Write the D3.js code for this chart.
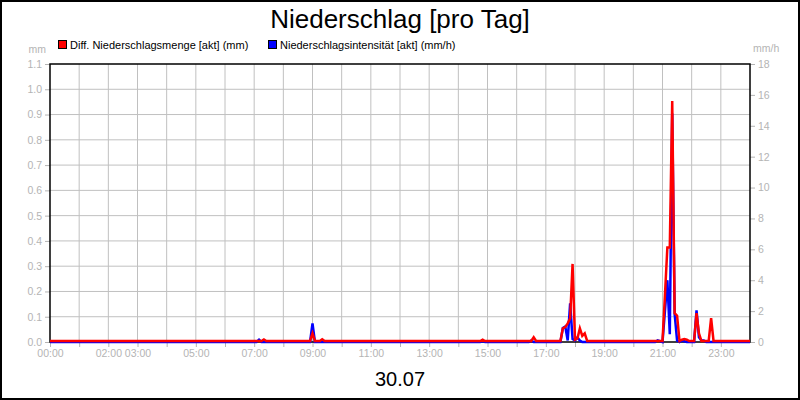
<!DOCTYPE html>
<html>
<head>
<meta charset="utf-8">
<script src="https://cdn.jsdelivr.net/npm/d3@7"></script>
<style>
  body { margin: 0; background: #fff; }
  svg { font-family: "Liberation Sans", Arial, sans-serif; }
  .axis text { fill: #b4b4b4; font-size: 10.5px; }
  .axis line { stroke: #b4b4b4; }
  .axis path { display: none; }
</style>
</head>
<body>
<div id="chart"></div>
<script>
// red series: Diff. Niederschlagsmenge (mm), 5 minute steps, zeros around the events
var mengeTimes = ['00:00', '07:15', '07:20', '07:25', '08:55', '09:00', '09:05', '09:15', '09:20', '09:25',
  '14:45', '14:50', '14:55', '16:30', '16:35', '16:40', '17:30', '17:35', '17:40', '17:45', '17:50', '17:55',
  '18:00', '18:05', '18:10', '18:15', '18:20', '18:25', '21:00', '21:05', '21:10', '21:15', '21:20', '21:25',
  '21:30', '21:35', '21:40', '21:45', '21:50', '21:55', '22:05', '22:10', '22:15', '22:20', '22:35', '22:40',
  '22:45', '24:00'];
var mengeValues = [0, 0, 0.006, 0, 0, 0.03, 0, 0, 0.007, 0,
  0, 0.005, 0, 0, 0.015, 0, 0, 0.05, 0.055, 0.07, 0.09, 0.305,
  0.005, 0.01, 0.05, 0.02, 0.03, 0, 0, 0.18, 0.37, 0.37, 0.95, 0.11,
  0.10, 0, 0.005, 0.008, 0.005, 0, 0, 0.11, 0.03, 0, 0, 0.09,
  0, 0];

// blue series: Niederschlagsintensitaet (mm/h)
var intensTimes = ['00:00', '07:05', '07:10', '07:15', '08:55', '09:00', '09:05', '14:45', '14:50', '14:55',
  '16:25', '16:30', '16:35', '17:30', '17:35', '17:40', '17:45', '17:50', '17:55', '18:00', '18:05', '18:10',
  '18:15', '20:45', '20:50', '20:55', '21:00', '21:05', '21:10', '21:15', '21:20', '21:25', '21:30', '21:35',
  '21:40', '21:45', '21:50', '22:05', '22:10', '22:15', '22:20', '22:25', '22:30', '24:00'];
var intensValues = [0, 0, 0.15, 0, 0, 1.2, 0, 0, 0.06, 0,
  0, 0.1, 0, 0, 0.9, 1.0, 0.1, 2.5, 0.2, 0.1, 0.3, 0.1,
  0, 0, 0.1, 0.05, 0, 2.0, 4.0, 0.5, 14.8, 1.8, 0.1, 0,
  0.1, 0.05, 0, 0, 2.05, 0.3, 0.1, 0.1, 0, 0];

var xLabelHours = [0, 2, 3, 5, 7, 9, 11, 13, 15, 17, 19, 21, 23];
var leftTicks = [0, 0.1, 0.2, 0.3, 0.4, 0.5, 0.6, 0.7, 0.8, 0.9, 1.0, 1.1];
var rightTicks = [0, 2, 4, 6, 8, 10, 12, 14, 16, 18];

var width = 800, height = 400;
var margin = { top: 64, right: 50, bottom: 58, left: 50 };
var chartWidth = width - margin.left - margin.right;
var chartHeight = height - margin.top - margin.bottom;

function toHours(t) {
  var p = t.split(':');
  return +p[0] + (+p[1]) / 60;
}

var svg = d3.select('#chart').append('svg')
  .attr('width', width)
  .attr('height', height);

svg.append('rect')
  .attr('x', 1).attr('y', 1)
  .attr('width', width - 2).attr('height', height - 2)
  .attr('fill', '#fff').attr('stroke', '#000').attr('stroke-width', 2);

var chartGroup = svg.append('g')
  .attr('transform', `translate(${margin.left}, ${margin.top})`);

var xScale = d3.scaleLinear().domain([0, 24]).range([0, chartWidth]);
var yLeft = d3.scaleLinear().domain([0, 1.1]).range([chartHeight, 0]);
var yRight = d3.scaleLinear().domain([0, 18]).range([chartHeight, 0]);

// grid
chartGroup.append('g').selectAll('line')
  .data(d3.range(1, 24))
  .enter().append('line')
  .attr('x1', d => xScale(d)).attr('x2', d => xScale(d))
  .attr('y1', 0).attr('y2', chartHeight)
  .attr('stroke', '#c0c0c0');

chartGroup.append('g').selectAll('line')
  .data(leftTicks.slice(1, -1))
  .enter().append('line')
  .attr('x1', 0).attr('x2', chartWidth)
  .attr('y1', d => yLeft(d)).attr('y2', d => yLeft(d))
  .attr('stroke', '#c0c0c0');

// axes
var bottomAxis = d3.axisBottom(xScale)
  .tickValues(d3.range(0, 24))
  .tickSize(5)
  .tickPadding(3)
  .tickFormat(d => xLabelHours.indexOf(d) >= 0 ? (d < 10 ? '0' + d : d) + ':00' : '');
chartGroup.append('g')
  .attr('class', 'axis')
  .attr('transform', `translate(0, ${chartHeight})`)
  .call(bottomAxis);

var leftAxis = d3.axisLeft(yLeft)
  .tickValues(leftTicks)
  .tickSize(5)
  .tickPadding(3)
  .tickFormat(d3.format('.1f'));
chartGroup.append('g')
  .attr('class', 'axis')
  .call(leftAxis);

var rightAxis = d3.axisRight(yRight)
  .tickValues(rightTicks)
  .tickSize(5)
  .tickPadding(3)
  .tickFormat(d3.format('d'));
chartGroup.append('g')
  .attr('class', 'axis')
  .attr('transform', `translate(${chartWidth}, 0)`)
  .call(rightAxis);

// plot frame
chartGroup.append('rect')
  .attr('x', 0).attr('y', 0)
  .attr('width', chartWidth).attr('height', chartHeight)
  .attr('fill', 'none').attr('stroke', '#000').attr('stroke-width', 1.5);

// lines
var intensLine = d3.line()
  .x((d, i) => xScale(toHours(intensTimes[i])))
  .y(d => yRight(d));
chartGroup.append('path')
  .datum(intensValues)
  .attr('d', intensLine)
  .attr('fill', 'none')
  .attr('stroke', '#0000ff')
  .attr('stroke-width', 2.5);

var mengeLine = d3.line()
  .x((d, i) => xScale(toHours(mengeTimes[i])))
  .y(d => yLeft(d) - 1);
chartGroup.append('path')
  .datum(mengeValues)
  .attr('d', mengeLine)
  .attr('fill', 'none')
  .attr('stroke', '#ff0000')
  .attr('stroke-width', 2.5);

// titles and labels
svg.append('text')
  .attr('x', width / 2).attr('y', 28)
  .attr('text-anchor', 'middle')
  .attr('font-size', '26px')
  .text('Niederschlag [pro Tag]');

svg.append('text')
  .attr('x', width / 2).attr('y', 386)
  .attr('text-anchor', 'middle')
  .attr('font-size', '20px')
  .text('30.07');

svg.append('text')
  .attr('x', 46).attr('y', 53)
  .attr('text-anchor', 'end')
  .attr('font-size', '10.5px').attr('fill', '#b4b4b4')
  .text('mm');

svg.append('text')
  .attr('x', 753).attr('y', 52)
  .attr('font-size', '10.5px').attr('fill', '#b4b4b4')
  .text('mm/h');

// legend
var legendItems = [
  { label: 'Diff. Niederschlagsmenge [akt] (mm)', color: '#ff0000', x: 58 },
  { label: 'Niederschlagsintensität [akt] (mm/h)', color: '#0000ff', x: 268 }
];
var legend = svg.append('g').selectAll('g')
  .data(legendItems)
  .enter().append('g')
  .attr('transform', d => `translate(${d.x}, 40)`);
legend.append('rect')
  .attr('x', 0.5).attr('y', 0.5)
  .attr('width', 8).attr('height', 8)
  .attr('fill', d => d.color)
  .attr('stroke', '#000');
legend.append('text')
  .attr('x', 12).attr('y', 8.5)
  .attr('font-size', '11px')
  .text(d => d.label);
</script>
</body>
</html>
